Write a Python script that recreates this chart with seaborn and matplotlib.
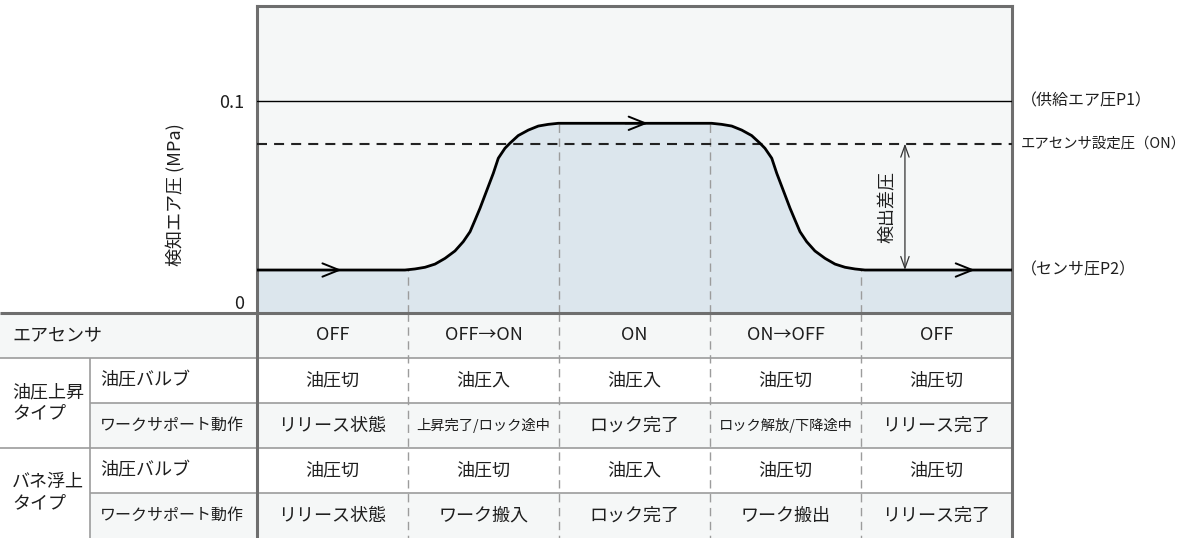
import matplotlib
matplotlib.use("Agg")
import matplotlib.pyplot as plt
import seaborn as sns
import numpy as np
import pandas as pd

# ---------------- data ----------------
# time axis in "phase" units (5 phases), pressure in MPa
time_pts = [0.0, 0.980, 1.046, 1.113, 1.179, 1.245, 1.311, 1.366, 1.411, 1.444, 1.477,
            1.510, 1.565, 1.598, 1.642, 1.675, 1.730, 1.797, 1.863, 1.929, 1.995,
            3.011, 3.077, 3.144, 3.210, 3.276, 3.331, 3.364, 3.409, 3.442, 3.497,
            3.530, 3.563, 3.596, 3.640, 3.695, 3.762, 3.828, 3.894, 3.960, 4.026, 5.0]
pressure_pts = [0.0203, 0.0203, 0.0208, 0.0216, 0.0231, 0.0258, 0.0293, 0.0337, 0.0384,
                0.0439, 0.0495, 0.0557, 0.0660, 0.0731, 0.0778, 0.0802, 0.0838, 0.0864,
                0.0883, 0.0891, 0.0896,
                0.0896, 0.0891, 0.0883, 0.0864, 0.0838, 0.0802, 0.0778, 0.0731, 0.0660,
                0.0557, 0.0495, 0.0439, 0.0384, 0.0337, 0.0293, 0.0258, 0.0231, 0.0216,
                0.0208, 0.0203, 0.0203]
supply_p1 = 0.1
sensor_set = 0.08
sensor_p2 = 0.0203
y_ticks = [0, 0.1]
y_ticklabels = ["0", "0.1"]
y_label = "検知エア圧 (MPa)"
right_labels = ["（供給エア圧P1）", "エアセンサ設定圧（ON）", "（センサ圧P2）"]
diff_label = "検出差圧"
arrow_tips = [(0.561, 0.0203), (2.589, 0.0896), (4.755, 0.0203)]

row_groups = ["", "油圧上昇\nタイプ", "", "バネ浮上\nタイプ", ""]
row_labels = ["エアセンサ", "油圧バルブ", "ワークサポート動作", "油圧バルブ", "ワークサポート動作"]
row_air_sensor = ["OFF", "OFF→ON", "ON", "ON→OFF", "OFF"]
row_hyd_valve = ["油圧切", "油圧入", "油圧入", "油圧切", "油圧切"]
row_hyd_action = ["リリース状態", "上昇完了/ロック途中", "ロック完了", "ロック解放/下降途中", "リリース完了"]
row_spring_valve = ["油圧切", "油圧切", "油圧入", "油圧切", "油圧切"]
row_spring_action = ["リリース状態", "ワーク搬入", "ロック完了", "ワーク搬出", "リリース完了"]
table_rows = [row_air_sensor, row_hyd_valve, row_hyd_action, row_spring_valve, row_spring_action]

# ---------------- style ----------------
sns.set_theme(style="white")
plt.rcParams["font.family"] = ["Noto Sans CJK JP", "DejaVu Sans"]

TXT = "#1e1e1e"
BORDER = "#6e6e6e"
GRID = "#9c9c9c"
BG = "#f5f7f7"
FILL = "#dce6ed"

W, H = 1198, 538
L, R, T, B = 257, 1012, 6, 313
COLW = (R - L) / 5.0

fig = plt.figure(figsize=(W / 100, H / 100), dpi=100)
fig.patch.set_facecolor("white")

# ---------------- chart ----------------
ax = fig.add_axes([L / W, 1 - B / H, (R - L) / W, (B - T) / H])
ax.set_facecolor(BG)
df = pd.DataFrame({"t": time_pts, "p": pressure_pts})
ax.fill_between(df["t"], 0, df["p"], color=FILL, lw=0, zorder=1)
for u in [1, 2, 3, 4]:
    ax.vlines(u, 0, np.interp(u, time_pts, pressure_pts), colors=GRID, lw=1.0,
              linestyles=(0, (6, 4)), zorder=2)
ax.axhline(supply_p1, color="black", lw=1.0, zorder=3)
ax.axhline(sensor_set, color="#222222", lw=1.5, ls=(0, (4.8, 3.4)), zorder=3)
sns.lineplot(data=df, x="t", y="p", sort=False, estimator=None, color="black",
             lw=2.0, ax=ax, zorder=5, solid_joinstyle="round")
ax.set_xlim(0, 5)
ax.set_ylim(0, 0.145)
ax.set_xlabel("")
ax.set_ylabel("")
ax.set_xticks([])
ax.set_yticks(y_ticks)
ax.set_yticklabels(y_ticklabels)
ax.tick_params(axis="y", length=0, pad=9, labelsize=13, colors=TXT)
ax.get_yticklabels()[0].set_verticalalignment("bottom")
for s in ["left", "right", "top"]:
    ax.spines[s].set_color(BORDER)
    ax.spines[s].set_linewidth(2.2)
ax.spines["bottom"].set_visible(False)

for (xt, yt) in arrow_tips:
    ax.annotate("", xy=(xt, yt), xytext=(xt - 0.15, yt),
                arrowprops=dict(arrowstyle="->,head_length=0.6,head_width=0.24",
                                lw=1.4, color="black", mutation_scale=20,
                                shrinkA=0, shrinkB=0), zorder=6)

xd = 4.291
ax.annotate("", xy=(xd, sensor_set), xytext=(xd, sensor_p2),
            arrowprops=dict(arrowstyle="<->,head_length=0.7,head_width=0.25",
                            lw=0.9, color="#333333", mutation_scale=12,
                            shrinkA=0, shrinkB=0), zorder=6)
ax.text(4.18, (sensor_set + sensor_p2) / 2, diff_label, rotation=90, ha="center",
        va="center", fontsize=13, color=TXT)

for lab, yv in zip(right_labels, [supply_p1, sensor_set, sensor_p2]):
    fs = 10.4 if len(lab) > 10 else 11.5
    ax.annotate(lab, xy=(1, yv), xycoords=("axes fraction", "data"),
                xytext=(9, 0), textcoords="offset pixels", ha="left", va="center",
                fontsize=fs, color=TXT, annotation_clip=False)

fig.text(175 / W, 1 - 195 / H, y_label, rotation=90, ha="center", va="center",
         fontsize=13, color=TXT)

# ---------------- table ----------------
tax = fig.add_axes([0, 0, R / W, (H - B) / H])
xmin = -L / COLW
xg = (90 - L) / COLW
tax.set_xlim(xmin, 5)
tax.set_ylim(H, B)
tax.axis("off")

row_edges = [B + 45 * i for i in range(6)]
for i in range(5):
    y0, y1 = row_edges[i], row_edges[i + 1]
    if i % 2 == 0:
        x0 = xmin if i == 0 else xg
        tax.fill_between([x0, 5], y0, y1, color=BG, lw=0, zorder=0)

# separators
tax.hlines(row_edges[1], xmin, 5, colors=GRID, lw=1.2, zorder=2, clip_on=False)
tax.hlines(row_edges[2], xg, 5, colors=GRID, lw=1.2, zorder=2, clip_on=False)
tax.hlines(row_edges[3], xmin, 5, colors=GRID, lw=1.2, zorder=2, clip_on=False)
tax.hlines(row_edges[4], xg, 5, colors=GRID, lw=1.2, zorder=2, clip_on=False)
tax.vlines(xg, row_edges[1], H, colors=GRID, lw=1.2, zorder=2, clip_on=False)
for u in [1, 2, 3, 4]:
    tax.vlines(u, B, H, colors=GRID, lw=1.0, linestyles=(0, (6, 4)), zorder=2)
tax.hlines(B, xmin, 5, colors=BORDER, lw=2.2, zorder=4, clip_on=False)
tax.vlines([0, 5], B, H, colors=BORDER, lw=2.2, zorder=4, clip_on=False)

# labels
xl = (12 - L) / COLW
xs = (100 - L) / COLW
tax.text(xl, (row_edges[0] + row_edges[1]) / 2, row_labels[0], ha="left",
         va="center", fontsize=13, color=TXT)
for i in [1, 2, 3, 4]:
    yc = (row_edges[i] + row_edges[i + 1]) / 2
    fs = 11.5 if len(row_labels[i]) > 6 else 13
    tax.text(xs, yc, row_labels[i], ha="left", va="center", fontsize=fs, color=TXT)
tax.text(xl, row_edges[2], row_groups[1], ha="left", va="center", fontsize=13,
         color=TXT, linespacing=1.25)
tax.text(xl, row_edges[4], row_groups[3], ha="left", va="center", fontsize=13,
         color=TXT, linespacing=1.25)

for i, row in enumerate(table_rows):
    yc = (row_edges[i] + row_edges[i + 1]) / 2
    for j, val in enumerate(row):
        fs = 10.3 if len(val) > 8 else 13
        tax.text(j + 0.5, yc, val, ha="center", va="center", fontsize=fs, color=TXT)

fig.savefig("out.png", dpi=100, facecolor="white")
